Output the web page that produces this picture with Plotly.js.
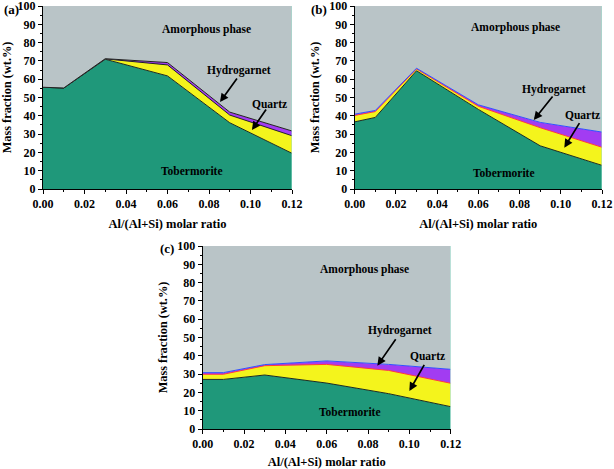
<!DOCTYPE html>
<html>
<head>
<meta charset="utf-8">
<script src="https://cdn.plot.ly/plotly-3.0.1.min.js"></script>
<style>html,body{margin:0;padding:0;background:#fff;}#chart{width:614px;height:469px;}</style>
</head>
<body>
<div id="chart"></div>
<script>
// Al/(Al+Si) molar ratio
const ratio = [0.00, 0.01, 0.03, 0.06, 0.09, 0.12];

// (a) mass fractions, wt.%
const tobA   = [55.6, 55.2, 70.9, 61.8, 36.2, 19.5];
const quartzA = [0.0, 0.0, 0.2, 6.0, 4.2, 9.6];
const hydroA  = [0.0, 0.0, 0.1, 1.3, 1.6, 2.6];

// (b)
const tobB   = [36.7, 39.1, 64.6, 43.5, 23.6, 12.9];
const quartzB = [3.5, 3.2, 1.0, 1.7, 9.9, 9.9];
const hydroB  = [0.7, 0.6, 0.4, 0.8, 2.9, 8.3];

// (c)
const tobC   = [27.1, 27.1, 29.5, 25.1, 19.3, 12.2];
const quartzC = [2.8, 2.8, 5.1, 10.2, 12.7, 12.8];
const hydroC  = [0.9, 0.9, 0.6, 1.9, 3.3, 7.6];

const panelLabels = ['(a)', '(b)', '(c)'];
const phaseNames = ['Tobermorite', 'Quartz', 'Hydrogarnet', 'Amorphous phase'];

const FONT = 'Liberation Serif, Times New Roman, serif';
const colors = {tob:'#1f987a', quartz:'#f4f41c', hydro:'#a23cf2', amor:'#b9c4c7'};

function panel(tob, quartz, hydro, xa, ya, grp, qLine, hLine) {
  const amor = tob.map((v,i)=> 100 - v - quartz[i] - hydro[i]);
  const common = {x: ratio, xaxis: xa, yaxis: ya, stackgroup: grp, mode:'lines', hoverinfo:'skip', showlegend:false};
  return [
    Object.assign({}, common, {y: tob, name: phaseNames[0], fillcolor: colors.tob, line:{color:'#1a2a22', width:1}}),
    Object.assign({}, common, {y: quartz, name: phaseNames[1], fillcolor: colors.quartz, line:{color:qLine, width:1}}),
    Object.assign({}, common, {y: hydro, name: phaseNames[2], fillcolor: colors.hydro, line:{color:hLine, width:1}}),
    Object.assign({}, common, {y: amor, name: phaseNames[3], fillcolor: colors.amor, line:{color:colors.amor, width:0}})
  ];
}

const data = [].concat(
  panel(tobA, quartzA, hydroA, 'x', 'y', 'a', '#222', '#222'),
  panel(tobB, quartzB, hydroB, 'x2', 'y2', 'b', '#ff3b3b', '#3050ff'),
  panel(tobC, quartzC, hydroC, 'x3', 'y3', 'c', '#ff3b3b', '#3050ff')
);

function xax(domain, anchor) {
  return {domain: domain, anchor: anchor, range:[0,0.12], dtick:0.02, tickformat:'.2f',
    showline:true, linecolor:'#000', linewidth:1, ticks:'outside', ticklen:4, tickwidth:1, tickcolor:'#000',
    minor:{dtick:0.01, ticks:'outside', ticklen:2, tickcolor:'#000'},
    showgrid:false, zeroline:false, mirror:false, ticklabeloverflow:'allow',
    tickfont:{family:FONT, size:12, color:'#000', weight:'bold'},
    title:{text:'Al/(Al+Si) molar ratio', font:{family:FONT, size:12.5, color:'#000', weight:'bold'}, standoff:8}};
}
function yax(domain, anchor) {
  return {domain: domain, anchor: anchor, range:[0,100], dtick:10,
    showline:true, linecolor:'#000', linewidth:1, ticks:'outside', ticklen:4, tickwidth:1, tickcolor:'#000',
    minor:{dtick:5, ticks:'outside', ticklen:2, tickcolor:'#000'},
    showgrid:false, zeroline:false, mirror:false, ticklabeloverflow:'allow',
    tickfont:{family:FONT, size:12, color:'#000', weight:'bold'},
    title:{text:'Mass fraction (wt.%)', font:{family:FONT, size:12.3, color:'#000', weight:'bold'}, standoff:6}};
}

const annFont = {family:FONT, size:11.5, color:'#000', weight:'bold'};
function labels(xr, yr, pos) {
  const list = [];
  const t = (text, p) => list.push({xref:xr, yref:yr, x:p[0], y:p[1], text:text, showarrow:false, font:annFont});
  t(phaseNames[3], pos.amor); t(phaseNames[0], pos.tob); t(phaseNames[2], pos.hydro); t(phaseNames[1], pos.quartz);
  const arr = (tail, tip) => list.push({xref:xr, yref:yr, axref:xr, ayref:yr, x:tip[0], y:tip[1], ax:tail[0], ay:tail[1],
    text:'', showarrow:true, arrowhead:2, arrowsize:1, arrowwidth:1.7, arrowcolor:'#000'});
  arr(pos.hArrow[0], pos.hArrow[1]); arr(pos.qArrow[0], pos.qArrow[1]);
  return list;
}

const annotations = [].concat(
  labels('x','y',{amor:[0.0786,87.4], tob:[0.0718,9.8], hydro:[0.0945,64.5], quartz:[0.109,46.4],
    hArrow:[[0.094,61.2],[0.0853,47.5]], qArrow:[[0.108,44.3],[0.1007,32.2]]}),
  labels('x2','y2',{amor:[0.0778,88], tob:[0.0725,8.7], hydro:[0.0967,54.6], quartz:[0.1103,40.4],
    hArrow:[[0.0966,51.4],[0.0869,37.7]], qArrow:[[0.1095,36.8],[0.1017,22.6]]}),
  labels('x3','y3',{amor:[0.0785,86.9], tob:[0.0713,9.5], hydro:[0.0955,53.6], quartz:[0.1089,40.1],
    hArrow:[[0.0939,49.9],[0.0845,34.6]], qArrow:[[0.1076,35.9],[0.1000,20.8]]}),
  [
    {xref:'paper', yref:'paper', x:2/614, y:1-9/469, xanchor:'left', yanchor:'middle', text:panelLabels[0], showarrow:false, font:{family:FONT, size:13, color:'#000', weight:'bold'}},
    {xref:'paper', yref:'paper', x:309/614, y:1-9/469, xanchor:'left', yanchor:'middle', text:panelLabels[1], showarrow:false, font:{family:FONT, size:13, color:'#000', weight:'bold'}},
    {xref:'paper', yref:'paper', x:158/614, y:1-248/469, xanchor:'left', yanchor:'middle', text:panelLabels[2], showarrow:false, font:{family:FONT, size:13, color:'#000', weight:'bold'}}
  ]
);

const edge = (xr, yr) => ({type:'line', xref:xr, yref:yr + ' domain', x0:0.12, x1:0.12, y0:0, y1:1, line:{color:'#9fe0cf', width:1}});

const layout = {
  width:614, height:469, margin:{l:0,r:0,t:0,b:0},
  paper_bgcolor:'#fff', plot_bgcolor:'#fff',
  font:{family:FONT, color:'#000', weight:'bold'},
  xaxis: xax([43/614, 292/614], 'y'),
  yaxis: yax([1-189/469, 1-6/469], 'x'),
  xaxis2: xax([354.7/614, 602/614], 'y2'),
  yaxis2: yax([1-189/469, 1-6/469], 'x2'),
  xaxis3: xax([202.7/614, 450.7/614], 'y3'),
  yaxis3: yax([1-429/469, 1-246/469], 'x3'),
  annotations: annotations,
  shapes: [edge('x','y'), edge('x2','y2'), edge('x3','y3')]
};

Plotly.newPlot('chart', data, layout, {staticPlot:true});
</script>
</body>
</html>
